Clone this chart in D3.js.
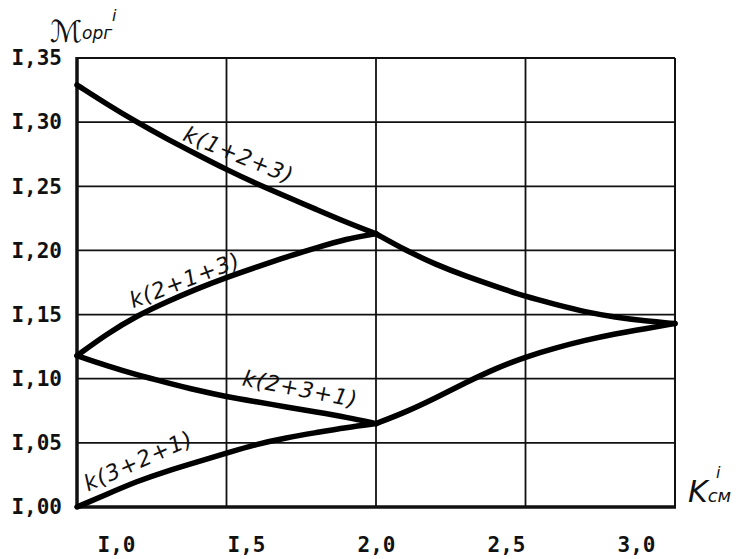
<!DOCTYPE html>
<html>
<head>
<meta charset="utf-8">
<script src="https://cdn.jsdelivr.net/npm/d3@7"></script>
<style>
  body { margin: 0; background: #fff; }
  svg { display: block; }
  .tick text { font-family: "DejaVu Sans Mono", monospace; font-size: 21px; font-weight: bold; fill: #111; }
  .lbl { font-family: "DejaVu Sans", sans-serif; font-style: italic; fill: #111; }
</style>
</head>
<body>
<div id="chart"></div>
<script>
// ---- data ----
const xLeft = [1.0, 1.1, 1.2, 1.3, 1.4, 1.5, 1.6, 1.7, 1.8, 1.9, 2.0];
const xRight = [2.0, 2.1, 2.2, 2.3, 2.4, 2.5, 2.6, 2.7, 2.8, 2.9, 3.0];

const k123 = [1.329, 1.314, 1.300, 1.287, 1.275, 1.263, 1.252, 1.242, 1.232, 1.222, 1.213];
const k213 = [1.118, 1.135, 1.149, 1.160, 1.170, 1.179, 1.187, 1.195, 1.202, 1.209, 1.213];
const k231 = [1.118, 1.110, 1.103, 1.097, 1.091, 1.086, 1.082, 1.078, 1.074, 1.070, 1.065];
const k321 = [1.000, 1.010, 1.020, 1.028, 1.035, 1.042, 1.049, 1.054, 1.058, 1.062, 1.065];

const upperRight = [1.213, 1.200, 1.189, 1.180, 1.172, 1.164, 1.158, 1.152, 1.148, 1.145, 1.143];
const lowerRight = [1.065, 1.074, 1.085, 1.097, 1.108, 1.117, 1.124, 1.130, 1.135, 1.139, 1.143];

const yTicks = [1.00, 1.05, 1.10, 1.15, 1.20, 1.25, 1.30, 1.35];
const xTicks = [1.0, 1.5, 2.0, 2.5, 3.0];
const xGrid = [1.5, 2.0, 2.5];

const W = 741, H = 559;
const mLeft = 77, mRight = 675, mTop = 58, mBottom = 507;

let svg = d3.select('#chart').append('svg')
    .attr('width', W)
    .attr('height', H);

let x = d3.scaleLinear().domain([1, 3]).range([mLeft, mRight]);
let y = d3.scaleLinear().domain([1, 1.35]).range([mBottom, mTop]);
// the printed x labels sit a little off the grid lines
let xLab = d3.scaleLinear().domain([1, 3]).range([116, 636]);

let fmt = (d, p) => d3.format(p)(d).replace('.', ',').replace(/^1/, 'I');

// grid
svg.append('g').selectAll('line').data(yTicks.slice(1, -1)).join('line')
    .attr('x1', mLeft).attr('x2', mRight)
    .attr('y1', d => y(d)).attr('y2', d => y(d))
    .attr('stroke', '#111').attr('stroke-width', 1.8);
svg.append('g').selectAll('line').data(xGrid).join('line')
    .attr('x1', d => x(d)).attr('x2', d => x(d))
    .attr('y1', mTop).attr('y2', mBottom)
    .attr('stroke', '#111').attr('stroke-width', 1.8);

// frame
svg.append('line').attr('x1', mLeft).attr('x2', mRight).attr('y1', mTop).attr('y2', mTop)
    .attr('stroke', '#111').attr('stroke-width', 2);
svg.append('line').attr('x1', mRight).attr('x2', mRight).attr('y1', mTop).attr('y2', mBottom)
    .attr('stroke', '#111').attr('stroke-width', 2);
svg.append('line').attr('x1', mLeft).attr('x2', mLeft).attr('y1', mTop - 1).attr('y2', mBottom + 2)
    .attr('stroke', '#111').attr('stroke-width', 3.5);
svg.append('line').attr('x1', mLeft).attr('x2', mRight + 1).attr('y1', mBottom).attr('y2', mBottom)
    .attr('stroke', '#111').attr('stroke-width', 3.5);

// axes (labels only)
let yAxis = svg.append('g')
    .attr('transform', `translate(${mLeft},0)`)
    .call(d3.axisLeft(y).tickValues(yTicks).tickSize(0).tickPadding(15).tickFormat(d => fmt(d, '.2f')));
yAxis.select('.domain').remove();

let xAxis = svg.append('g')
    .attr('transform', `translate(0,${mBottom})`)
    .call(d3.axisBottom(xLab).tickValues(xTicks).tickSize(0).tickPadding(30)
        .tickFormat(d => fmt(d, '.1f')));
xAxis.select('.domain').remove();

// curves
let line = d3.line().x(d => x(d[0])).y(d => y(d[1])).curve(d3.curveBasis);
let series = [
    [xLeft, k123], [xLeft, k213], [xLeft, k231], [xLeft, k321],
    [xRight, upperRight], [xRight, lowerRight]
];
svg.append('g').selectAll('path').data(series).join('path')
    .attr('d', ([xs, ys]) => line(xs.map((v, i) => [v, ys[i]])))
    .attr('fill', 'none')
    .attr('stroke', '#000')
    .attr('stroke-width', 5.5)
    .attr('stroke-linejoin', 'round')
    .attr('stroke-linecap', 'round');

// curve captions
let captions = [
    {t: 'k(1+2+3)', u: 1.35, v: 1.286, a: 22},
    {t: 'k(2+1+3)', u: 1.187, v: 1.155, a: -21},
    {t: 'k(2+3+1)', u: 1.55, v: 1.095, a: 11},
    {t: 'k(3+2+1)', u: 1.037, v: 1.012, a: -24}
];
svg.append('g').selectAll('text').data(captions).join('text')
    .attr('class', 'lbl')
    .attr('transform', d => `translate(${x(d.u)},${y(d.v)}) rotate(${d.a})`)
    .attr('font-size', 22)
    .attr('letter-spacing', 1)
    .text(d => d.t);

// axis titles
let yt = svg.append('text').attr('class', 'lbl').attr('x', 50).attr('y', 42);
yt.append('tspan').attr('font-size', 30).text('ℳ');
yt.append('tspan').attr('font-size', 17).attr('dy', -3).text('орг');
svg.append('text').attr('class', 'lbl').attr('x', 112).attr('y', 21).attr('font-size', 16).text('i');

let xt = svg.append('text').attr('class', 'lbl').attr('x', 688).attr('y', 502);
xt.append('tspan').attr('font-size', 30).text('K');
xt.append('tspan').attr('font-size', 18).text('см');
svg.append('text').attr('class', 'lbl').attr('x', 716).attr('y', 478).attr('font-size', 16).text('i');
</script>
</body>
</html>
